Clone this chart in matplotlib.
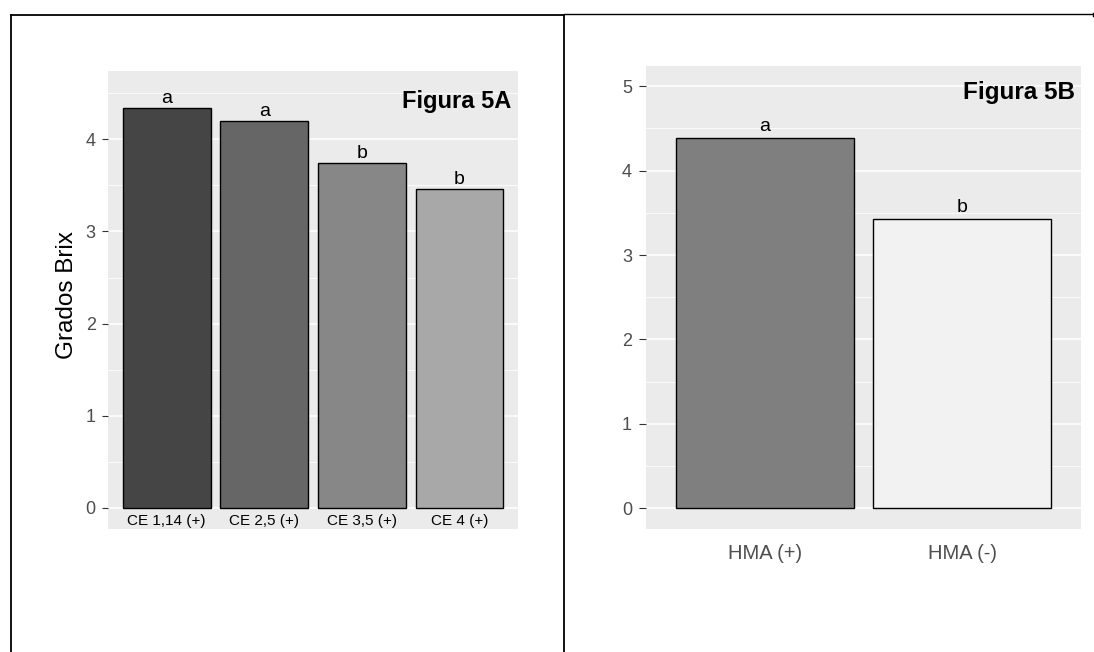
import matplotlib
matplotlib.use("Agg")
import matplotlib.pyplot as plt
from matplotlib.lines import Line2D
from matplotlib.ticker import MultipleLocator

plt.rcParams['font.family'] = ['Liberation Sans', 'DejaVu Sans']

# Figura 5A data
cats_a = ["CE 1,14 (+)", "CE 2,5 (+)", "CE 3,5 (+)", "CE 4 (+)"]
brix_a = [4.34, 4.20, 3.74, 3.46]
letters_a = ["a", "a", "b", "b"]
colors_a = ["#454545", "#666666", "#878787", "#a8a8a8"]

# Figura 5B data
cats_b = ["HMA (+)", "HMA (-)"]
brix_b = [4.39, 3.43]
letters_b = ["a", "b"]
colors_b = ["#7f7f7f", "#f2f2f2"]

W, H = 1094, 652
fig = plt.figure(figsize=(W / 100, H / 100), dpi=100)


def px_axes(x0, x1, ytop, ybot):
    return fig.add_axes([x0 / W, (H - ybot) / H, (x1 - x0) / W, (ybot - ytop) / H])


def style(ax):
    ax.set_facecolor("#ebebeb")
    for s in ax.spines.values():
        s.set_visible(False)
    ax.yaxis.set_major_locator(MultipleLocator(1))
    ax.yaxis.set_minor_locator(MultipleLocator(0.5))
    ax.grid(axis="y", which="major", color="white", lw=1.1)
    ax.grid(axis="y", which="minor", color="white", lw=0.55)
    ax.set_axisbelow(True)
    ax.tick_params(axis="y", which="minor", length=0)


# ---- left panel
ax1 = px_axes(108, 518, 71, 529)
style(ax1)
x_a = list(range(1, len(cats_a) + 1))
ax1.bar(x_a, brix_a, width=0.9, color=colors_a, edgecolor="black", linewidth=1.0)
for xi, v, l in zip(x_a, brix_a, letters_a):
    ax1.annotate(l, (xi, v), xytext=(0, 3.6), textcoords="offset points",
                 ha="center", va="baseline", fontsize=14)
ax1.set_xlim(0.4, 4.6)
ax1.set_ylim(-0.228, 4.74)
ax1.set_xticks(x_a, cats_a, fontsize=11, color="black")
ax1.tick_params(axis="x", length=0, pad=-11)
ax1.tick_params(axis="y", which="major", length=4.3, width=0.8, color="#333333",
                labelsize=13, labelcolor="#4d4d4d", pad=4.5)
ax1.set_ylabel("Grados Brix", fontsize=17.5)
ax1.yaxis.set_label_coords(-0.072, 0.51)
ax1.text(0.983, 0.92, "Figura 5A", transform=ax1.transAxes, ha="right",
         va="baseline", fontsize=17, fontweight="bold")

# ---- right panel
ax2 = px_axes(646, 1081, 66, 529)
style(ax2)
x_b = list(range(1, len(cats_b) + 1))
ax2.bar(x_b, brix_b, width=0.9, color=colors_b, edgecolor="black", linewidth=1.0)
for xi, v, l in zip(x_b, brix_b, letters_b):
    ax2.annotate(l, (xi, v), xytext=(0, 4.5), textcoords="offset points",
                 ha="center", va="baseline", fontsize=14)
ax2.set_xlim(0.4, 2.6)
ax2.set_ylim(-0.243, 5.237)
ax2.set_xticks(x_b, cats_b, fontsize=14.5, color="#4d4d4d")
ax2.tick_params(axis="x", length=0, pad=11)
ax2.tick_params(axis="y", which="major", length=5, width=0.8, color="#333333",
                labelsize=13, labelcolor="#4d4d4d", pad=5)
ax2.text(0.986, 0.929, "Figura 5B", transform=ax2.transAxes, ha="right",
         va="baseline", fontsize=17.5, fontweight="bold")

# ---- table frame lines
def fline(xs, ys, lw):
    fig.add_artist(Line2D([x / W for x in xs], [1 - y / H for y in ys],
                          transform=fig.transFigure, color="black", lw=lw))

fline([11, 564], [15, 15], 1.3)
fline([564, 1093], [14.3, 14.3], 1.0)
fline([11, 11], [15, H], 1.3)
fline([563.5, 563.5], [15, H], 1.3)
fline([1093, 1093], [13, 16], 1.0)

fig.savefig("out.png", dpi=100)
